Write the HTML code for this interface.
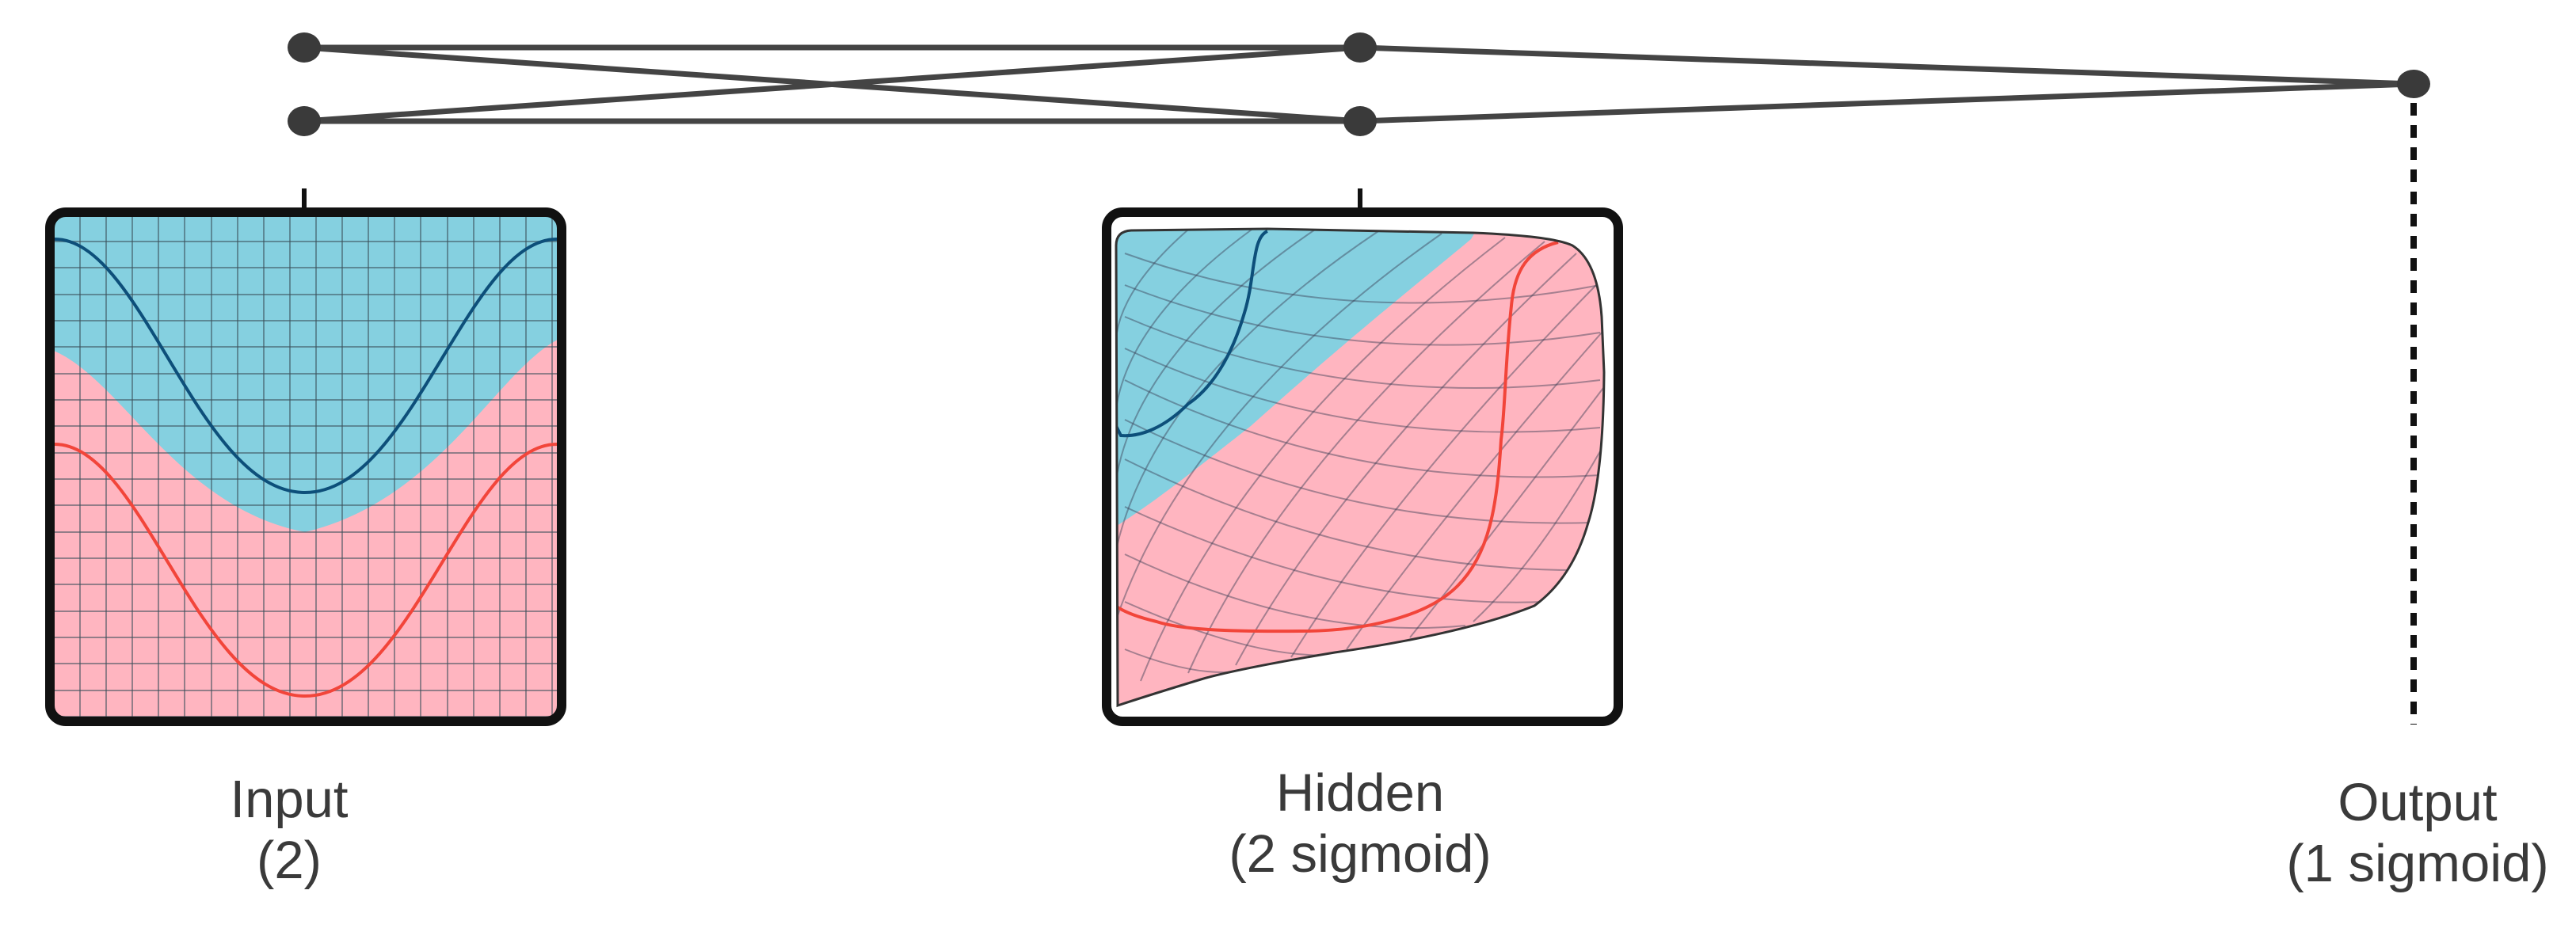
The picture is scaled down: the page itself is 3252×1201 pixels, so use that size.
<!DOCTYPE html>
<html><head><meta charset="utf-8"><style>
html,body{margin:0;padding:0;background:#fff;}
svg{display:block;}
text{font-family:"Liberation Sans",sans-serif;fill:#3a3a3a;font-size:67px;text-anchor:middle;}
</style></head><body>
<svg width="3252" height="1201" viewBox="0 0 3252 1201" xmlns="http://www.w3.org/2000/svg">
<defs>
<clipPath id="ci"><rect x="68" y="272" width="636" height="636" rx="14"/></clipPath>
<clipPath id="ch"><path id="hs" d="M1409,310 Q1409,292 1428,291 L1600,289 L1860,294 Q1960,298 1985,310 Q2017,330 2022,400 L2025,470 Q2024,600 2005,660 Q1985,730 1937,765 Q1850,800 1685,824 Q1560,845 1516,858 Q1450,878 1411,891 Z"/></clipPath>
</defs>

<g stroke="#444" stroke-width="7" fill="none">
<line x1="384" y1="60" x2="1717" y2="60"/>
<line x1="384" y1="60" x2="1717" y2="153"/>
<line x1="384" y1="153" x2="1717" y2="60"/>
<line x1="384" y1="153" x2="1717" y2="153"/>
<line x1="1717" y1="60" x2="3047" y2="106"/>
<line x1="1717" y1="153" x2="3047" y2="106"/>
</g>
<g fill="#3a3a3a">
<ellipse cx="384" cy="60" rx="21" ry="19"/>
<ellipse cx="384" cy="153" rx="21" ry="19"/>
<ellipse cx="1717" cy="60" rx="21" ry="19"/>
<ellipse cx="1717" cy="153" rx="21" ry="19"/>
<ellipse cx="3047" cy="106" rx="21" ry="18"/>
</g>
<line x1="3047" y1="130" x2="3047" y2="915" stroke="#111" stroke-width="8" stroke-dasharray="16 12"/>
<line x1="384" y1="238" x2="384" y2="264" stroke="#111" stroke-width="6"/>
<line x1="1717" y1="238" x2="1717" y2="264" stroke="#111" stroke-width="6"/>

<g clip-path="url(#ci)">
<rect x="60" y="265" width="650" height="650" fill="#ffb5c0"/>
<path d="M60,265 L712,265 L712,425 C630,460 560,630 385,672 C220,640 150,470 60,440 Z" fill="#85d0e0"/>
<g stroke="#3a4f5a" stroke-opacity="0.55" stroke-width="2">
<line x1="101" y1="265" x2="101" y2="915"/><line x1="134" y1="265" x2="134" y2="915"/><line x1="167" y1="265" x2="167" y2="915"/><line x1="200" y1="265" x2="200" y2="915"/><line x1="233" y1="265" x2="233" y2="915"/><line x1="267" y1="265" x2="267" y2="915"/><line x1="300" y1="265" x2="300" y2="915"/><line x1="333" y1="265" x2="333" y2="915"/><line x1="366" y1="265" x2="366" y2="915"/><line x1="399" y1="265" x2="399" y2="915"/><line x1="432" y1="265" x2="432" y2="915"/><line x1="465" y1="265" x2="465" y2="915"/><line x1="498" y1="265" x2="498" y2="915"/><line x1="531" y1="265" x2="531" y2="915"/><line x1="565" y1="265" x2="565" y2="915"/><line x1="598" y1="265" x2="598" y2="915"/><line x1="631" y1="265" x2="631" y2="915"/><line x1="664" y1="265" x2="664" y2="915"/><line x1="697" y1="265" x2="697" y2="915"/>
<line x1="60" y1="305" x2="712" y2="305"/><line x1="60" y1="338" x2="712" y2="338"/><line x1="60" y1="372" x2="712" y2="372"/><line x1="60" y1="405" x2="712" y2="405"/><line x1="60" y1="438" x2="712" y2="438"/><line x1="60" y1="472" x2="712" y2="472"/><line x1="60" y1="505" x2="712" y2="505"/><line x1="60" y1="538" x2="712" y2="538"/><line x1="60" y1="572" x2="712" y2="572"/><line x1="60" y1="605" x2="712" y2="605"/><line x1="60" y1="638" x2="712" y2="638"/><line x1="60" y1="672" x2="712" y2="672"/><line x1="60" y1="705" x2="712" y2="705"/><line x1="60" y1="738" x2="712" y2="738"/><line x1="60" y1="772" x2="712" y2="772"/><line x1="60" y1="805" x2="712" y2="805"/><line x1="60" y1="838" x2="712" y2="838"/><line x1="60" y1="872" x2="712" y2="872"/><line x1="60" y1="905" x2="712" y2="905"/>
</g>
<path d="M69,302 C180,302 250,622 385,622 C520,622 590,302 703,302" fill="none" stroke="#0d4f7a" stroke-width="4"/>
<path d="M69,561 C180,561 250,879 385,879 C520,879 590,561 703,561" fill="none" stroke="#f2453a" stroke-width="4"/>
</g>
<rect x="63" y="268" width="646" height="643" rx="20" fill="none" stroke="#111" stroke-width="12"/>

<g clip-path="url(#ch)">
<rect x="1400" y="280" width="640" height="620" fill="#ffb5c0"/>
<path d="M1400,280 L1870,280 L1857,302 C1800,350 1720,412 1579,538 C1500,600 1450,640 1400,670 Z" fill="#85d0e0"/>
<g stroke="#3a3f55" stroke-opacity="0.45" stroke-width="2" fill="none">
<path d="M1420,320 Q1700,420 2020,360"/><path d="M1420,360 Q1700,470 2020,420"/><path d="M1420,400 Q1700,520 2020,480"/><path d="M1420,440 Q1700,570 2020,540"/><path d="M1420,480 Q1700,620 2020,600"/><path d="M1420,530 Q1700,670 2010,660"/><path d="M1420,580 Q1700,720 1990,720"/><path d="M1420,640 Q1700,770 1950,760"/><path d="M1420,700 Q1650,810 1850,790"/><path d="M1420,760 Q1600,840 1700,825"/><path d="M1420,820 Q1520,860 1580,845"/>
<path d="M1440,860 Q1560,560 1900,300"/><path d="M1500,850 Q1620,580 1950,305"/><path d="M1560,840 Q1690,600 1990,320"/><path d="M1630,830 Q1760,620 2015,360"/><path d="M1700,820 Q1820,650 2022,420"/><path d="M1780,805 Q1880,680 2024,490"/><path d="M1860,785 Q1940,710 2020,570"/><path d="M1410,780 Q1500,520 1820,295"/><path d="M1410,690 Q1460,480 1740,292"/><path d="M1410,600 Q1440,440 1660,290"/><path d="M1410,510 Q1430,400 1580,290"/><path d="M1410,420 Q1420,360 1500,290"/>
</g>
<path d="M1600,292 C1580,300 1585,350 1571,395 C1555,450 1530,490 1500,510 C1470,540 1440,552 1415,550 L1409,538" fill="none" stroke="#0d4f7a" stroke-width="4"/>
<path d="M1967,306 C1930,315 1912,340 1908,386 C1900,460 1900,520 1895,555 C1890,640 1880,700 1840,740 C1800,780 1720,797 1643,797 C1550,798 1490,795 1460,785 C1430,778 1415,770 1408,765" fill="none" stroke="#f2453a" stroke-width="4"/>
</g>
<use href="#hs" fill="none" stroke="#333" stroke-width="3"/>
<rect x="1397" y="268" width="646" height="643" rx="20" fill="none" stroke="#111" stroke-width="12"/>

<text x="365" y="1032">Input</text>
<text x="365" y="1109">(2)</text>
<text x="1717" y="1024">Hidden</text>
<text x="1717" y="1101">(2 sigmoid)</text>
<text x="3052" y="1036">Output</text>
<text x="3052" y="1113">(1 sigmoid)</text>
</svg>
</body></html>
